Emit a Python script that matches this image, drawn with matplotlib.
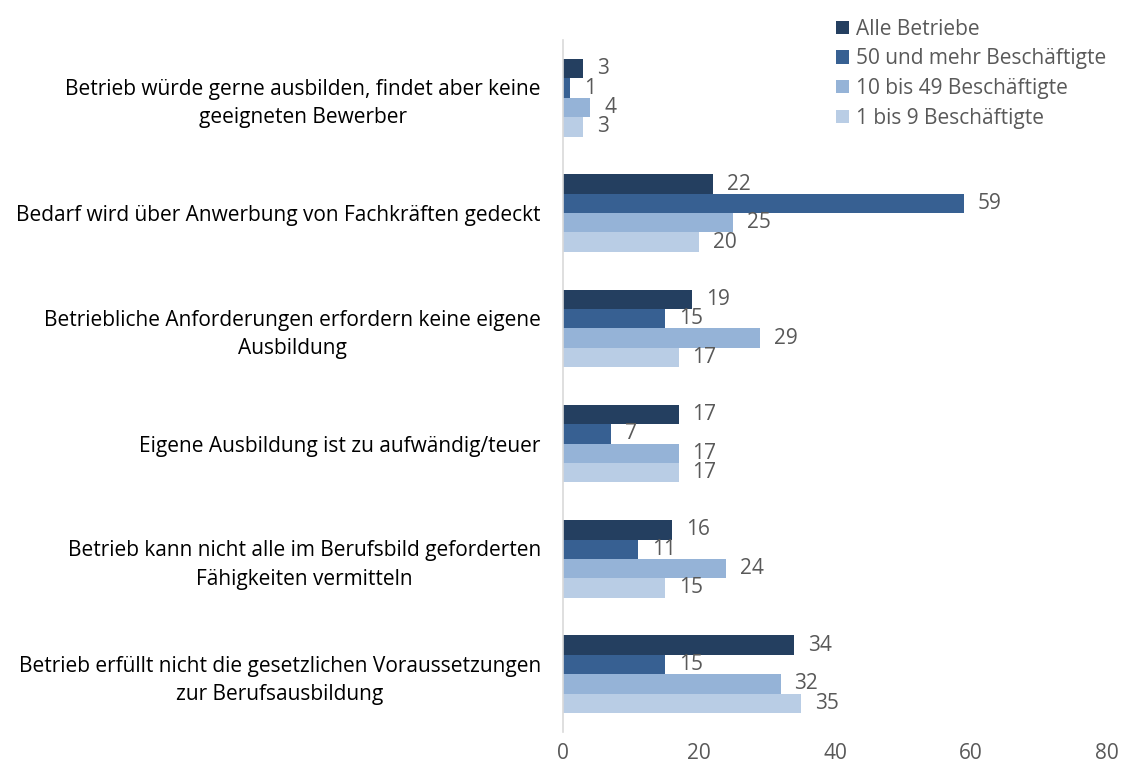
import numpy as np
import matplotlib.pyplot as plt

plt.rcParams["font.family"] = ["Open Sans", "DejaVu Sans"]

categories = [
    "Betrieb würde gerne ausbilden, findet aber keine\ngeeigneten Bewerber",
    "Bedarf wird über Anwerbung von Fachkräften gedeckt",
    "Betriebliche Anforderungen erfordern keine eigene\nAusbildung",
    "Eigene Ausbildung ist zu aufwändig/teuer",
    "Betrieb kann nicht alle im Berufsbild geforderten\nFähigkeiten vermitteln",
    "Betrieb erfüllt nicht die gesetzlichen Voraussetzungen\nzur Berufsausbildung",
]
series_names = [
    "Alle Betriebe",
    "50 und mehr Beschäftigte",
    "10 bis 49 Beschäftigte",
    "1 bis 9 Beschäftigte",
]
alle = [3, 22, 19, 17, 16, 34]
gross = [1, 59, 15, 7, 11, 15]
mittel = [4, 25, 29, 17, 24, 32]
klein = [3, 20, 17, 17, 15, 35]
x_ticks = [0, 20, 40, 60, 80]

colors = ["#243F60", "#376092", "#95B3D7", "#B9CDE5"]
grey = "#595959"

fig = plt.figure(figsize=(11.24, 7.72), dpi=100)
ax = fig.add_axes([0.5009, 0.052, 0.484, 0.896])

bar_h = 0.168
idx = np.arange(len(categories))
for k, (vals, name, col) in enumerate(zip([alle, gross, mittel, klein], series_names, colors)):
    pos = idx - 1.5 * bar_h + k * bar_h
    bars = ax.barh(pos, vals, height=bar_h, color=col, label=name)
    for b, v in zip(bars, vals):
        ax.annotate(str(v), (b.get_width(), b.get_y() + b.get_height() / 2),
                    xytext=(10, 0), textcoords="offset points",
                    ha="left", va="center", fontsize=15, color=grey)

ax.set_ylim(len(categories) - 0.5, -0.5)
ax.set_xlim(0, 80)
ax.set_xticks(x_ticks)
ax.tick_params(axis="x", length=0, labelsize=15, labelcolor=grey, pad=8)
ax.set_yticks(idx)
ax.set_yticklabels(categories, fontsize=15, color="black", ha="right",
                   multialignment="center", linespacing=1.45)
ax.tick_params(axis="y", length=0, pad=16)

for s in ["top", "right", "bottom"]:
    ax.spines[s].set_visible(False)
ax.spines["left"].set_color("#D9D9D9")
ax.spines["left"].set_linewidth(1.2)

leg = fig.legend(loc="upper left", bbox_to_anchor=(0.744, 0.976), frameon=False,
                 fontsize=15, handlelength=0.6, handleheight=0.6, handletextpad=0.35,
                 labelspacing=0.42, borderaxespad=0, borderpad=0)
for t in leg.get_texts():
    t.set_color(grey)

fig.savefig("out.png", dpi=100)
